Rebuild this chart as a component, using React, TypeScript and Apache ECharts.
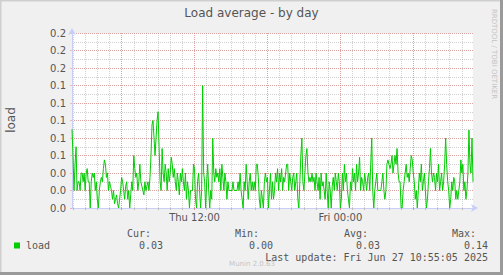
import React, { useEffect, useRef } from "react";
import * as echarts from "echarts";

// 5-minute load samples, Thu 01:55 .. Fri 10:55
const loadValues: number[] = [
  0.09, 0.06, 0.02, 0.05, 0.07, 0.02, 0.03, 0.03, 0.02, 0.04,
  0.04, 0.03, 0.04, 0.02, 0.04, 0.045, 0.03, 0.03, 0.0, 0.03,
  0.04, 0.035, 0.04, 0.02, 0.03, 0.01, 0.0, 0.02, 0.03, 0.035,
  0.03, 0.045, 0.055, 0.05, 0.035, 0.04, 0.02, 0.03, 0.025, 0.02,
  0.01, 0.02, 0.005, 0.01, 0.015, 0.005, 0.0, 0.01, 0.02, 0.035,
  0.03, 0.02, 0.01, 0.025, 0.03, 0.01, 0.02, 0.0, 0.015, 0.03,
  0.02, 0.06, 0.045, 0.035, 0.04, 0.02, 0.03, 0.05, 0.03, 0.025,
  0.02, 0.015, 0.03, 0.02, 0.025, 0.03, 0.02, 0.035, 0.06, 0.095,
  0.1, 0.08, 0.06, 0.08, 0.1, 0.11, 0.07, 0.03, 0.02, 0.068,
  0.04, 0.03, 0.05, 0.04, 0.02, 0.045, 0.03, 0.04, 0.058, 0.05,
  0.035, 0.045, 0.03, 0.02, 0.04, 0.03, 0.015, 0.04, 0.03, 0.045,
  0.03, 0.02, 0.04, 0.01, 0.03, 0.02, 0.0, 0.02, 0.02, 0.02,
  0.05, 0.045, 0.01, 0.0, 0.03, 0.04, 0.02, 0.0, 0.02, 0.14,
  0.04, 0.03, 0.0, 0.03, 0.05, 0.02, 0.0, 0.02, 0.01, 0.08,
  0.04, 0.03, 0.045, 0.035, 0.04, 0.03, 0.045, 0.02, 0.05, 0.035,
  0.02, 0.04, 0.03, 0.01, 0.03, 0.02, 0.02, 0.02, 0.02, 0.03,
  0.02, 0.02, 0.02, 0.02, 0.03, 0.02, 0.04, 0.02, 0.01, 0.0,
  0.03, 0.02, 0.05, 0.03, 0.01, 0.03, 0.04, 0.02, 0.03, 0.02,
  0.03, 0.02, 0.05, 0.05, 0.035, 0.01, 0.0, 0.02, 0.01, 0.0,
  0.03, 0.04, 0.03, 0.035, 0.0, 0.02, 0.04, 0.01, 0.03, 0.01,
  0.02, 0.04, 0.03, 0.045, 0.02, 0.04, 0.03, 0.045, 0.02, 0.035,
  0.03, 0.04, 0.05, 0.05, 0.02, 0.04, 0.03, 0.02, 0.035, 0.04,
  0.02, 0.03, 0.04, 0.01, 0.0, 0.03, 0.06, 0.08, 0.03, 0.02,
  0.04, 0.06, 0.068, 0.04, 0.03, 0.035, 0.03, 0.04, 0.03, 0.035,
  0.02, 0.04, 0.03, 0.02, 0.035, 0.01, 0.04, 0.025, 0.03, 0.02,
  0.01, 0.04, 0.02, 0.0, 0.03, 0.02, 0.0, 0.025, 0.035, 0.02,
  0.04, 0.03, 0.02, 0.04, 0.03, 0.0, 0.01, 0.04, 0.02, 0.05,
  0.03, 0.04, 0.02, 0.01, 0.0, 0.03, 0.02, 0.045, 0.03, 0.04,
  0.02, 0.05, 0.03, 0.04, 0.058, 0.02, 0.035, 0.03, 0.02, 0.04,
  0.03, 0.02, 0.035, 0.04, 0.02, 0.05, 0.08, 0.02, 0.0, 0.02,
  0.03, 0.04, 0.02, 0.02, 0.02, 0.02, 0.03, 0.04, 0.02, 0.01,
  0.02, 0.05, 0.055, 0.05, 0.045, 0.05, 0.06, 0.04, 0.05, 0.06,
  0.05, 0.068, 0.04, 0.03, 0.03, 0.0, 0.0, 0.02, 0.03, 0.04,
  0.05, 0.035, 0.04, 0.03, 0.045, 0.06, 0.055, 0.04, 0.03, 0.01,
  0.02, 0.0, 0.02, 0.04, 0.03, 0.05, 0.02, 0.03, 0.04, 0.02,
  0.0, 0.01, 0.03, 0.045, 0.068, 0.04, 0.03, 0.04, 0.035, 0.02,
  0.04, 0.03, 0.05, 0.02, 0.03, 0.04, 0.02, 0.03, 0.05, 0.08,
  0.05, 0.03, 0.02, 0.0, 0.01, 0.03, 0.02, 0.035, 0.03, 0.01,
  0.02, 0.01, 0.02, 0.03, 0.055, 0.04, 0.05, 0.02, 0.03, 0.01,
  0.02, 0.04, 0.089, 0.05, 0.04, 0.08, 0.03,
];

const startMinutes = 115; // Thu 01:55
const stepMinutes = 5;
const dayNames = ["Thu", "Fri"];

const statHeaders = ["Cur:", "Min:", "Avg:", "Max:"];
const statValues = ["0.03", "0.00", "0.03", "0.14"];
const seriesName = "load";
const titleText = "Load average - by day";
const lastUpdate = "Last update: Fri Jun 27 10:55:05 2025";
const footerText = "Munin 2.0.63";
const sideText = "RRDTOOL / TOBI OETIKER";

const pad = (n: number) => (n < 10 ? "0" + n : "" + n);
const minuteAt = (i: number) => startMinutes + i * stepMinutes;
const categories = loadValues.map((_, i) => {
  const m = minuteAt(i);
  const d = Math.floor(m / 1440);
  const r = m % 1440;
  return `${dayNames[d]} ${pad(Math.floor(r / 60))}:${pad(r % 60)}`;
});
const every = (mins: number) => (i: number) => minuteAt(i) % mins === 0;
const isHour = every(60);
const is6h = every(360);
const is12h = every(720);

const SANS = "DejaVu Sans";
const MONO = "DejaVu Sans Mono";
const TXT = "#555555";
const MINOR = "rgba(150,150,150,0.45)";
const MAJOR = "rgba(240,90,90,0.38)";
const AXIS = "#c8cef6";

export default function App() {
  const ref = useRef<HTMLDivElement>(null);
  useEffect(() => {
    if (!ref.current) return;
    const chart = echarts.init(ref.current, null, { renderer: "svg" });
    const statRight = [151, 259, 368, 476];
    const valRight = [163, 273, 380, 488];
    const texts: any[] = [];
    const t = (text: string, x: number, y: number, align: string, font: string, fill = TXT, rotation = 0) =>
      texts.push({
        type: "text",
        x,
        y,
        rotation,
        silent: true,
        style: {
          text,
          font,
          fill,
          textAlign: align,
          textVerticalAlign: "middle",
          align,
          verticalAlign: "middle",
        },
      });
    t(titleText, 251.5, 13, "center", `12px '${SANS}'`, "#555555");
    t(seriesName, 11, 120, "center", `12px '${SANS}'`, TXT, Math.PI / 2);
    t(sideText, 494, 54, "center", `7px '${SANS}'`, "#c4c4c4", -Math.PI / 2);
    statHeaders.forEach((h, k) => t(h, statRight[k], 233, "right", `10px '${MONO}'`));
    statValues.forEach((v, k) => t(v, valRight[k], 245, "right", `10px '${MONO}'`));
    t(seriesName, 26, 245, "left", `10px '${MONO}'`);
    t(lastUpdate, 488, 257, "right", `10px '${MONO}'`);
    t(footerText, 252, 264, "center", `7px '${SANS}'`, "#c4c4c4");

    chart.setOption({
      animation: false,
      backgroundColor: "#f0f0f0",
      grid: { left: 72, right: 30, top: 33, bottom: 67, containLabel: false, outerBoundsMode: "none", backgroundColor: "#ffffff", show: true, borderWidth: 0 },
      xAxis: [
        {
          type: "category",
          position: "bottom",
          data: categories,
          boundaryGap: false,
          axisLine: { show: false },
          axisTick: { show: true, interval: (i: number) => isHour(i), length: 2, lineStyle: { color: "#bbbbbb" } },
          axisLabel: { show: false },
          splitLine: { show: true, interval: (i: number) => isHour(i), lineStyle: { color: MINOR, type: [1, 1], width: 1 } },
        },
        {
          type: "category",
          position: "bottom",
          offset: 0,
          data: categories,
          boundaryGap: false,
          axisLine: { show: true, lineStyle: { color: AXIS, width: 1 }, symbol: ["none", "arrow"], symbolSize: [6, 7], symbolOffset: [0, 5] },
          axisTick: { show: true, interval: (i: number) => is6h(i), length: 2, lineStyle: { color: MAJOR } },
          axisLabel: {
            interval: (i: number) => is12h(i),
            hideOverlap: false,
            margin: 4,
            fontFamily: SANS,
            fontSize: 10,
            color: TXT,
          },
          splitLine: { show: true, interval: (i: number) => is6h(i), lineStyle: { color: MAJOR, type: [1, 1], width: 1 } },
        },
      ],
      yAxis: [
        {
          type: "value",
          position: "left",
          min: 0,
          max: 0.2,
          interval: 0.01,
          axisLine: { show: false },
          axisTick: { show: false },
          axisLabel: { show: false },
          splitLine: { show: true, lineStyle: { color: MINOR, type: [1, 1], width: 1 } },
        },
        {
          type: "value",
          position: "left",
          offset: 0,
          min: 0,
          max: 0.2,
          interval: 0.02,
          axisLine: { show: true, lineStyle: { color: AXIS, width: 1 }, symbol: ["none", "arrow"], symbolSize: [6, 7], symbolOffset: [0, 5] },
          axisTick: { show: true, length: 2, lineStyle: { color: MAJOR } },
          axisLabel: {
            formatter: (v: number) => v.toFixed(1),
            margin: 6,
            fontFamily: SANS,
            fontSize: 10,
            color: TXT,
          },
          splitLine: { show: true, lineStyle: { color: MAJOR, type: [1, 1], width: 1 } },
        },
      ],
      series: [
        {
          name: seriesName,
          type: "line",
          xAxisIndex: 1,
          yAxisIndex: 1,
          data: loadValues,
          symbol: "none",
          showSymbol: false,
          lineStyle: { color: "#00cc00", width: 1 },
          z: 5,
        },
      ],
      graphic: [
        { type: "rect", shape: { x: 0, y: 0, width: 503, height: 1.5 }, style: { fill: "#cfcfcf" }, silent: true },
        { type: "rect", shape: { x: 0, y: 0, width: 1.5, height: 275 }, style: { fill: "#cfcfcf" }, silent: true },
        { type: "rect", shape: { x: 500, y: 0, width: 3, height: 275 }, style: { fill: "#9a9a9a" }, silent: true },
        { type: "rect", shape: { x: 0, y: 272, width: 503, height: 3 }, style: { fill: "#9a9a9a" }, silent: true },
        { type: "rect", shape: { x: 14, y: 242.5, width: 6, height: 6 }, style: { fill: "#00cc00" }, silent: true },
        ...texts,
      ],
    });
    return () => chart.dispose();
  }, []);
  return <div ref={ref} style={{ position: "absolute", left: 0, top: 0, width: 503, height: 275 }} />;
}
